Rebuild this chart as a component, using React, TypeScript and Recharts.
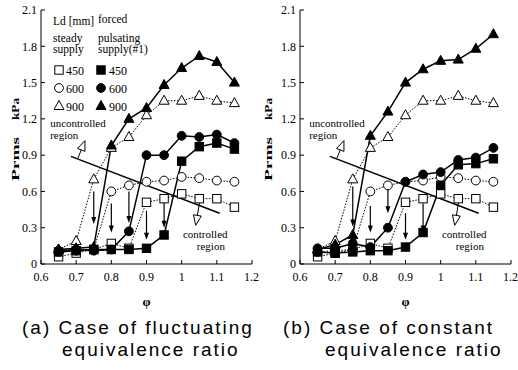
import { LineChart, Line, XAxis, YAxis, ReferenceLine, ReferenceDot } from "recharts";

const phi = [0.65, 0.7, 0.75, 0.8, 0.85, 0.9, 0.95, 1.0, 1.05, 1.1, 1.15];

// steady supply (same in both panels)
const steady450 = [0.06, 0.09, 0.12, 0.17, 0.13, 0.51, 0.54, 0.58, 0.54, 0.54, 0.47];
const steady600 = [0.1, 0.11, 0.12, 0.6, 0.65, 0.68, 0.69, 0.72, 0.71, 0.69, 0.68];
const steady900 = [0.12, 0.19, 0.7, 0.96, 1.05, 1.23, 1.35, 1.35, 1.39, 1.35, 1.33];

// (a) fluctuating equivalence ratio, forced pulsating supply
const forcedA450 = [0.1, 0.11, 0.12, 0.12, 0.12, 0.13, 0.24, 0.85, 0.97, 1.0, 0.95];
const forcedA600 = [0.11, 0.12, 0.11, 0.12, 0.27, 0.9, 0.9, 1.06, 1.05, 1.07, 1.0];
const forcedA900 = [0.12, 0.13, 0.14, 0.98, 1.2, 1.29, 1.48, 1.62, 1.72, 1.67, 1.5];

// (b) constant equivalence ratio, forced pulsating supply
const forcedB450 = [0.1, 0.09, 0.1, 0.11, 0.11, 0.14, 0.26, 0.65, 0.82, 0.83, 0.87];
const forcedB600 = [0.13, 0.13, 0.17, 0.14, 0.3, 0.68, 0.74, 0.76, 0.86, 0.88, 0.96];
const forcedB900 = [0.12, 0.16, 0.24, 1.06, 1.26, 1.5, 1.61, 1.68, 1.69, 1.78, 1.9];

// downward arrows (phi, from, to)
const arrowX = [0.75, 0.8, 0.85, 0.9, 0.95];
const arrowTopA = [0.6, 0.5, 0.6, 0.44, 0.52];
const arrowEndA = [0.33, 0.26, 0.34, 0.2, 0.3];
const arrowTopB = [0.64, 0.48, 0.64, 0.42, 0.5];
const arrowEndB = [0.31, 0.26, 0.42, 0.2, 0.26];

// boundary line between regions
const boundary = [
	{ x: 0.685, y: 0.89 },
	{ x: 1.108, y: 0.42 },
];

const xTicks = [0.6, 0.7, 0.8, 0.9, 1, 1.1, 1.2];
const yTicks = [0, 0.3, 0.6, 0.9, 1.2, 1.5, 1.8, 2.1];

const serif = "'Liberation Serif', 'Times New Roman', 'DejaVu Serif', serif";
const sans = "'Liberation Sans', Arial, sans-serif";

const buildRows = (f450: number[], f600: number[], f900: number[]) =>
	phi.map((p, i) => ({
		phi: p,
		s450: steady450[i],
		s600: steady600[i],
		s900: steady900[i],
		f450: f450[i],
		f600: f600[i],
		f900: f900[i],
	}));

// biome-ignore lint/suspicious/noExplicitAny: recharts dot props
type P = any;

const Square = (filled: boolean) => (p: P) => (
	<rect
		key={p.key}
		x={p.cx - 4.2}
		y={p.cy - 4.2}
		width={8.4}
		height={8.4}
		fill={filled ? "#000" : "#fff"}
		stroke="#000"
		strokeWidth={1}
	/>
);
const Circle = (filled: boolean) => (p: P) => (
	<circle key={p.key} cx={p.cx} cy={p.cy} r={4.4} fill={filled ? "#000" : "#fff"} stroke="#000" strokeWidth={1} />
);
const Triangle = (filled: boolean) => (p: P) => (
	<polygon
		key={p.key}
		points={`${p.cx},${p.cy - 5.5} ${p.cx + 5},${p.cy + 3.5} ${p.cx - 5},${p.cy + 3.5}`}
		fill={filled ? "#000" : "#fff"}
		stroke="#000"
		strokeWidth={1}
	/>
);

const DownArrow = (p: P) => {
	const { x1, y1, x2, y2 } = p;
	return (
		<g>
			<line x1={x1} y1={y1} x2={x2} y2={y2 - 5} stroke="#000" strokeWidth={1.2} />
			<polygon points={`${x2 - 2.5},${y2 - 7} ${x2 + 2.5},${y2 - 7} ${x2},${y2}`} fill="#000" />
		</g>
	);
};

const OpenHeadArrow = (p: P) => {
	const { x1, y1, x2, y2 } = p;
	const a = Math.atan2(y2 - y1, x2 - x1);
	const len = 10;
	const w = 4;
	const bx = x2 - len * Math.cos(a);
	const by = y2 - len * Math.sin(a);
	const nx = -Math.sin(a) * w;
	const ny = Math.cos(a) * w;
	return (
		<g>
			<line x1={x1} y1={y1} x2={bx} y2={by} stroke="#000" strokeWidth={1} />
			<polygon
				points={`${x2},${y2} ${bx + nx},${by + ny} ${bx - nx},${by - ny}`}
				fill="#fff"
				stroke="#000"
				strokeWidth={1}
			/>
		</g>
	);
};

const textAt = (label: string, anchor: "start" | "middle") => (p: P) => (
	<text x={p.cx} y={p.cy} textAnchor={anchor} style={{ fontFamily: serif, fontSize: 11 }} fill="#000">
		{label}
	</text>
);

// rotated axis title, stretched like the original scan
const YLabel = ({ viewBox, dx }: P) => {
	const cx = viewBox.x + dx;
	const mid = viewBox.y + viewBox.height / 2;
	const parts = [
		{ t: "Prms", c: mid + 22, len: 44 },
		{ t: "kPa", c: mid - 28, len: 22 },
	];
	return (
		<g>
			{parts.map((q) => (
				<text
					key={q.t}
					x={cx}
					y={q.c}
					transform={`rotate(-90 ${cx} ${q.c})`}
					textAnchor="middle"
					dominantBaseline="central"
					textLength={q.len}
					lengthAdjust="spacingAndGlyphs"
					style={{ fontFamily: serif, fontWeight: "bold", fontSize: 11 }}
					fill="#000"
				>
					{q.t}
				</text>
			))}
		</g>
	);
};

const PhiLabel = ({ viewBox }: P) => (
	<text
		x={viewBox.x + viewBox.width / 2}
		y={viewBox.y + 37}
		textAnchor="middle"
		dominantBaseline="central"
		style={{ fontFamily: serif, fontSize: 13, fontWeight: "bold" }}
		fill="#000"
	>
		φ
	</text>
);

const tickStyle = { fill: "#000", style: { fontFamily: serif, fontSize: 12 } };

const Panel = ({
	f450,
	f600,
	f900,
	arrowTop,
	arrowEnd,
	labelDx,
}: {
	f450: number[];
	f600: number[];
	f900: number[];
	arrowTop: number[];
	arrowEnd: number[];
	labelDx: number;
}) => (
	<LineChart
		width={259}
		height={310}
		data={buildRows(f450, f600, f900)}
		margin={{ top: 10, right: 7, left: 0, bottom: 0 }}
		style={{ fontFamily: serif }}
	>
		<XAxis
			dataKey="phi"
			type="number"
			domain={[0.6, 1.2]}
			ticks={xTicks}
			tickFormatter={(v) => (v === 1 ? "1" : String(v))}
			tick={tickStyle}
			tickSize={-4}
			tickMargin={12}
			stroke="#000"
			height={46}
			label={<PhiLabel />}
		/>
		<XAxis xAxisId="top" orientation="top" type="number" domain={[0.6, 1.2]} height={0} tick={false} stroke="#000" />
		<YAxis
			type="number"
			domain={[0, 2.1]}
			ticks={yTicks}
			tickFormatter={(v) => (v === 0 ? "0" : v.toFixed(1))}
			tick={tickStyle}
			tickSize={-4}
			tickMargin={8}
			stroke="#000"
			width={41}
			label={<YLabel dx={labelDx} />}
		/>
		<YAxis yAxisId="right" orientation="right" domain={[0, 2.1]} width={0} tick={false} stroke="#000" />

		<ReferenceLine segment={boundary} stroke="#000" strokeWidth={1.5} />
		{arrowX.map((x, i) => (
			<ReferenceLine
				key={`arr${x}`}
				segment={[
					{ x, y: arrowTop[i] },
					{ x, y: arrowEnd[i] },
				]}
				shape={DownArrow}
			/>
		))}
		<ReferenceLine
			segment={[
				{ x: 0.705, y: 0.875 },
				{ x: 0.725, y: 1.02 },
			]}
			shape={OpenHeadArrow}
		/>
		<ReferenceLine
			segment={[
				{ x: 1.052, y: 0.53 },
				{ x: 1.04, y: 0.32 },
			]}
			shape={OpenHeadArrow}
		/>
		<ReferenceDot x={0.626} y={1.13} r={0} shape={textAt("uncontrolled", "start")} />
		<ReferenceDot x={0.626} y={1.03} r={0} shape={textAt("region", "start")} />
		<ReferenceDot x={1.067} y={0.215} r={0} shape={textAt("controlled", "middle")} />
		<ReferenceDot x={1.083} y={0.115} r={0} shape={textAt("region", "middle")} />

		<Line dataKey="s450" stroke="#000" strokeWidth={1} strokeDasharray="1.5 1.5" dot={Square(false)} isAnimationActive={false} />
		<Line dataKey="s600" stroke="#000" strokeWidth={1} strokeDasharray="1.5 1.5" dot={Circle(false)} isAnimationActive={false} />
		<Line dataKey="s900" stroke="#000" strokeWidth={1} strokeDasharray="1.5 1.5" dot={Triangle(false)} isAnimationActive={false} />
		<Line dataKey="f450" stroke="#000" strokeWidth={1.5} dot={Square(true)} isAnimationActive={false} />
		<Line dataKey="f600" stroke="#000" strokeWidth={1.5} dot={Circle(true)} isAnimationActive={false} />
		<Line dataKey="f900" stroke="#000" strokeWidth={1.5} dot={Triangle(true)} isAnimationActive={false} />
	</LineChart>
);

const legendRows = ["450", "600", "900"];
const legendShapes = [Square, Circle, Triangle];

const LegendBox = () => (
	<svg width={110} height={120} style={{ position: "absolute", left: 48, top: 10 }}>
		<g style={{ fontFamily: serif, fontSize: 11.5 }} fill="#000">
			<text x={5} y={15}>Ld [mm]</text>
			<text x={50} y={13}>forced</text>
			<text x={5} y={32}>steady</text>
			<text x={5} y={43}>supply</text>
			<text x={50} y={32}>pulsating</text>
			<text x={50} y={43}>supply(#1)</text>
			{legendRows.map((r, i) => {
				const y = 60 + i * 18;
				const OpenMark = legendShapes[i](false);
				const FullMark = legendShapes[i](true);
				return (
					<g key={r} style={{ fontSize: 12 }}>
						<OpenMark cx={11} cy={y} />
						<text x={18} y={y + 4.5}>{r}</text>
						<FullMark cx={53} cy={y} />
						<text x={61} y={y + 4.5}>{r}</text>
					</g>
				);
			})}
		</g>
	</svg>
);

const captionStyle = {
	position: "absolute" as const,
	fontFamily: sans,
	fontSize: 19,
	letterSpacing: 2,
	color: "#000",
	whiteSpace: "nowrap" as const,
	lineHeight: "22px",
};

export default function App() {
	return (
		<div style={{ position: "absolute", left: 0, top: 0, width: 518, height: 370, background: "#fff" }}>
			<div style={{ position: "absolute", left: 0, top: 0 }}>
				<Panel f450={forcedA450} f600={forcedA600} f900={forcedA900} arrowTop={arrowTopA} arrowEnd={arrowEndA} labelDx={15} />
			</div>
			<div style={{ position: "absolute", left: 259, top: 0 }}>
				<Panel f450={forcedB450} f600={forcedB600} f900={forcedB900} arrowTop={arrowTopB} arrowEnd={arrowEndB} labelDx={9} />
			</div>
			<LegendBox />
			<div style={{ ...captionStyle, left: 22, top: 317 }}>(a) Case of fluctuating</div>
			<div style={{ ...captionStyle, left: 62, top: 339 }}>equivalence ratio</div>
			<div style={{ ...captionStyle, left: 283, top: 317 }}>(b) Case of constant</div>
			<div style={{ ...captionStyle, left: 325, top: 339 }}>equivalence ratio</div>
		</div>
	);
}
